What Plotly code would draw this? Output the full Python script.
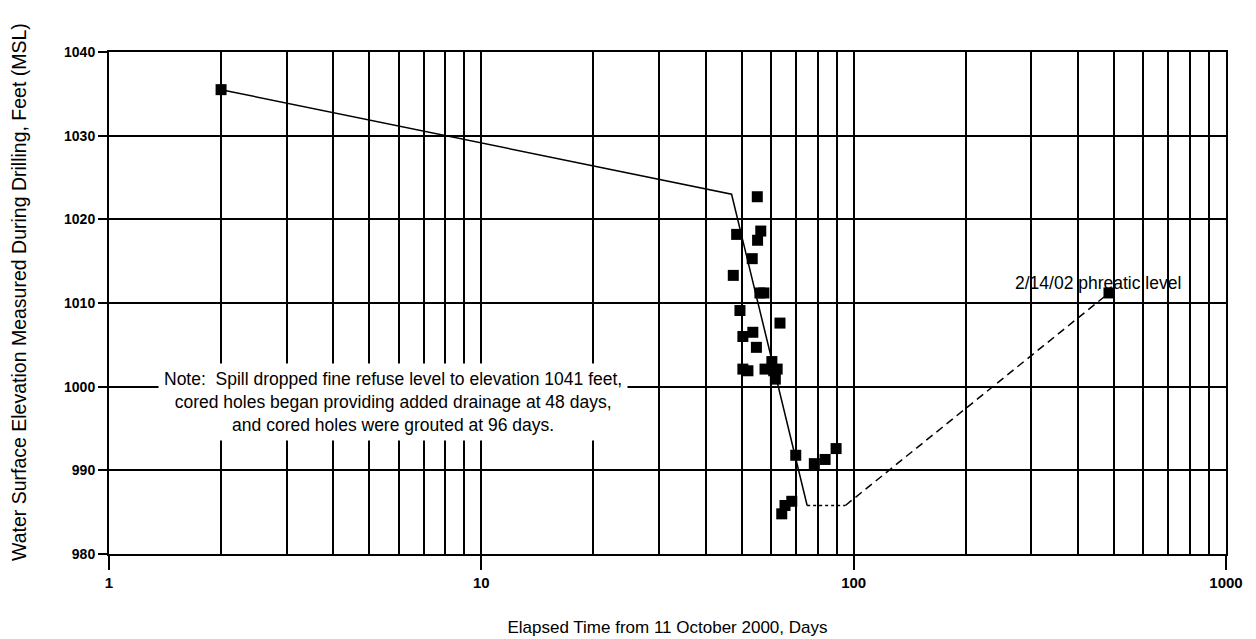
import plotly.graph_objects as go

# Measured points (elapsed days, elevation ft MSL)
days = [2, 55.1, 48.5, 56.3, 55.2, 53.4, 47.5, 56.0, 57.4, 49.5, 63.4, 50.4, 53.6,
        54.8, 60.3, 50.4, 52.0, 57.8, 61.0, 62.3, 61.6, 69.9, 78.4, 83.8, 89.7,
        68.2, 65.4, 64.1, 485]
elev = [1035.5, 1022.7, 1018.2, 1018.6, 1017.5, 1015.3, 1013.3, 1011.2, 1011.2,
        1009.1, 1007.6, 1006.0, 1006.5, 1004.7, 1003.0, 1002.1, 1001.9, 1002.1,
        1001.9, 1002.1, 1000.9, 991.8, 990.8, 991.3, 992.6, 986.3, 985.8, 984.8,
        1011.2]

# Trend lines
trend_x = [2, 47, 75]
trend_y = [1035.5, 1023, 985.8]
flat_x = [75, 95]
flat_y = [985.8, 985.8]
rise_x = [95, 485]
rise_y = [985.8, 1011.2]

x_major = [1, 10, 100, 1000]
x_minor = [m * d for d in (1, 10, 100) for m in range(2, 10)]
y_ticks = [980, 990, 1000, 1010, 1020, 1030, 1040]

FONT = "Liberation Sans, Arial, sans-serif"

fig = go.Figure()
fig.add_trace(go.Scatter(x=trend_x, y=trend_y, mode="lines",
                         line=dict(color="black", width=1.5), showlegend=False))
fig.add_trace(go.Scatter(x=flat_x, y=flat_y, mode="lines",
                         line=dict(color="black", width=1.5, dash="3px,3px"), showlegend=False))
fig.add_trace(go.Scatter(x=rise_x, y=rise_y, mode="lines",
                         line=dict(color="black", width=1.5, dash="8px,5px"), showlegend=False))
fig.add_trace(go.Scatter(x=days, y=elev, mode="markers",
                         marker=dict(symbol="square", size=11, color="black"),
                         showlegend=False))

fig.update_layout(
    width=1248, height=631,
    margin=dict(l=101, r=30, t=44, b=85),
    paper_bgcolor="white", plot_bgcolor="white",
    font=dict(family=FONT, color="black", size=15),
    xaxis=dict(type="log", range=[0, 3], tickvals=x_major,
               ticktext=[str(v) for v in x_major],
               ticks="outside", ticklen=14, tickwidth=2, tickcolor="black",
               tickfont=dict(size=15, weight="bold"),
               showgrid=True, gridcolor="black", gridwidth=1.8,
               minor=dict(tickvals=x_minor, showgrid=True, gridcolor="black",
                          gridwidth=1.8, ticks=""),
               showline=True, linecolor="black", linewidth=2, mirror=True,
               zeroline=False, automargin=False,
               title=dict(text="Elapsed Time from 11 October 2000, Days",
                          font=dict(size=17), standoff=31)),
    yaxis=dict(range=[980, 1040], tickvals=y_ticks,
               ticks="outside", ticklen=9, tickwidth=2, tickcolor="black",
               tickfont=dict(size=14, weight="bold"),
               showgrid=True, gridcolor="black", gridwidth=1.8,
               showline=True, linecolor="black", linewidth=2, mirror=True,
               zeroline=False, automargin=False),
    annotations=[
        dict(xref="paper", yref="paper", x=-0.0805, y=0.522,
             xanchor="center", yanchor="middle", textangle=-90,
             text="Water Surface Elevation Measured During Drilling, Feet (MSL)",
             showarrow=False, font=dict(size=19.5)),
        dict(xref="paper", yref="paper", x=0.254, y=0.303,
             xanchor="center", yanchor="middle",
             text="Note:  Spill dropped fine refuse level to elevation 1041 feet,<br>"
                  "cored holes began providing added drainage at 48 days,<br>"
                  "and cored holes were grouted at 96 days.",
             showarrow=False, align="center", bgcolor="white", borderpad=5,
             font=dict(size=17.5)),
        dict(xref="paper", yref="paper", x=0.885, y=0.540,
             xanchor="center", yanchor="middle",
             text="2/14/02 phreatic level", showarrow=False, font=dict(size=17.5)),
    ],
)

fig.write_html("out.html")
